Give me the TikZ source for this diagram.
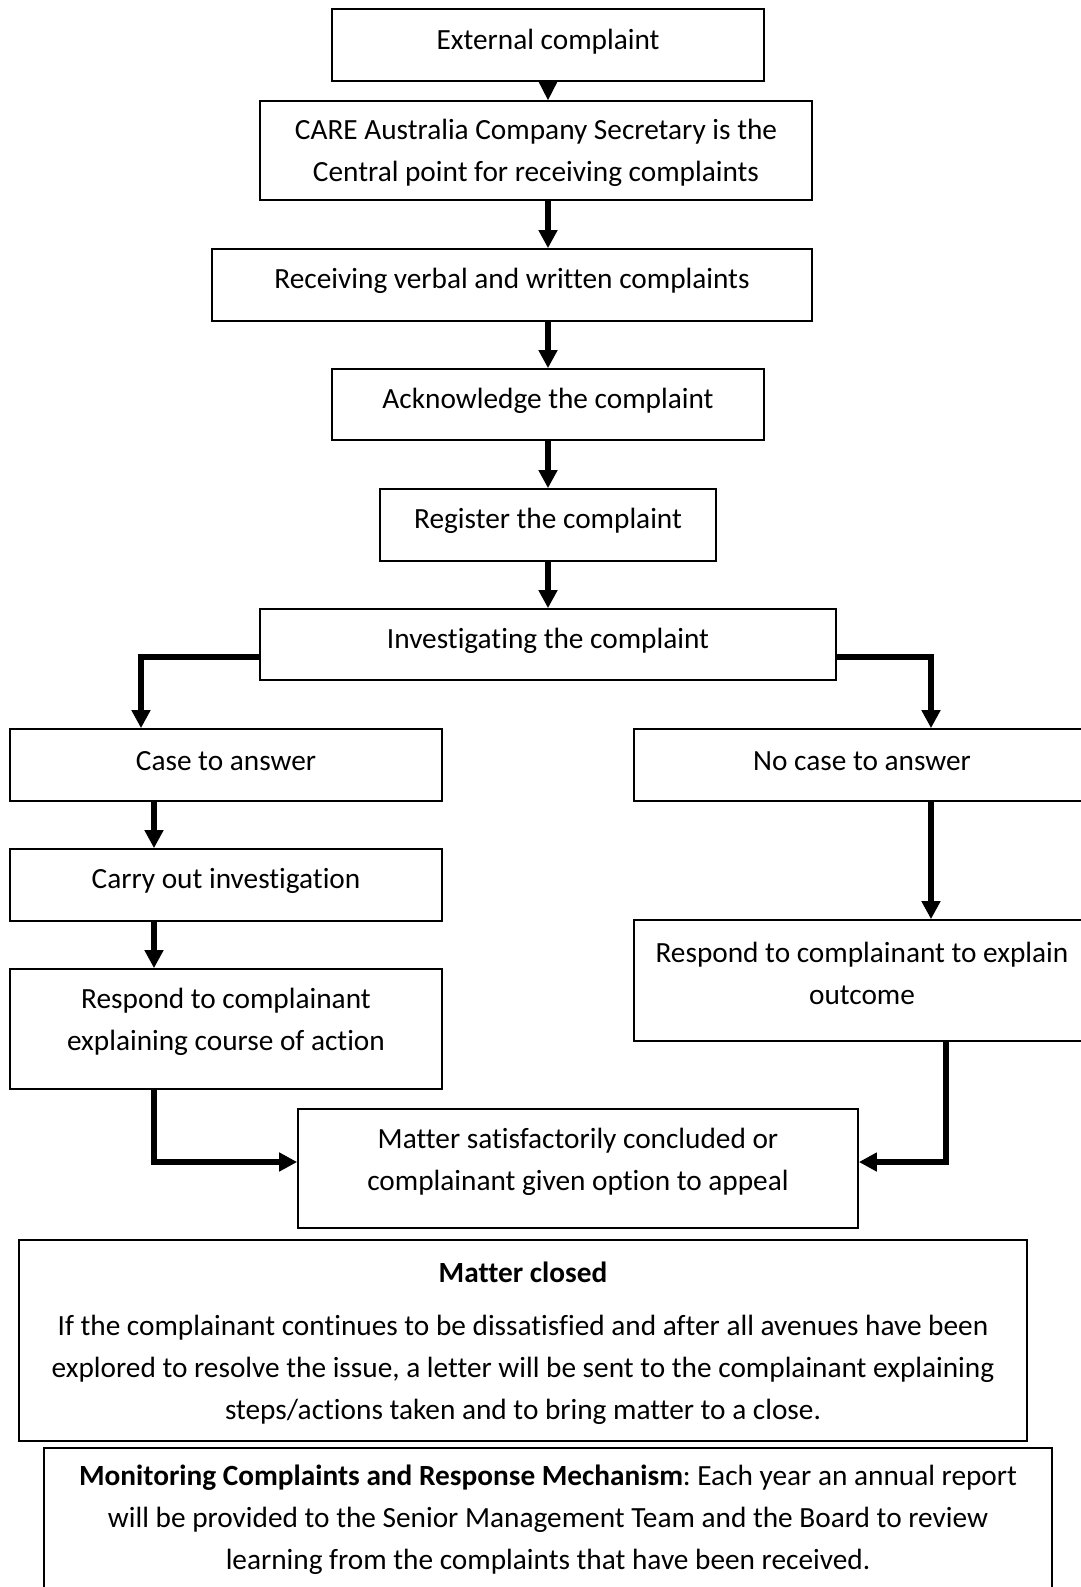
\documentclass[tikz,border=0pt]{standalone}
\usepackage{fontspec}
\setmainfont{Carlito}[RawFeature={-liga;-clig;-dlig;-calt}]
\usetikzlibrary{arrows.meta}
\frenchspacing

\tikzset{
  box/.style={draw=black, line width=1.7pt, rectangle, inner sep=0pt},
  txt/.style={inner sep=0pt, align=center, font=\fontsize{29.3}{42}\selectfont},
  arr/.style={line width=6pt, -{Triangle[width=18pt,length=18pt]}},
}

\begin{document}
\begin{tikzpicture}[x=1pt,y=-1pt]
\clip (0,0) rectangle (1081,1587);
\fill[white] (0,0) rectangle (1081,1587);
\coordinate (mid) at (548,0);
% main column
\node[box, minimum width=432, minimum height=72] (ext) at (548,45) {};
\node[txt] (ext-t) at (548,41.5) {External complaint};
\node[box, minimum width=552, minimum height=99] (care) at (536,150.5) {};
\node[txt] (care-t) at (536,153) {CARE Australia Company Secretary is the\\Central point for receiving complaints};
\node[box, minimum width=600, minimum height=72] (recv) at (512,285) {};
\node[txt] (recv-t) at (512,281) {Receiving verbal and written complaints};
\node[box, minimum width=432, minimum height=71] (ack) at (548,404.5) {};
\node[txt] (ack-t) at (548,401) {Acknowledge the complaint};
\node[box, minimum width=336, minimum height=72] (reg) at (548,525) {};
\node[txt] (reg-t) at (548,521) {Register the complaint};
\node[box, minimum width=576, minimum height=71] (inv) at (548,644.5) {};
\node[txt] (inv-t) at (548,641) {Investigating the complaint};
% left branch
\node[box, minimum width=432, minimum height=72] (case) at (226,765) {};
\node[txt] (case-t) at (226,761) {Case to answer};
\node[box, minimum width=432, minimum height=72] (carry) at (226,885) {};
\node[txt] (carry-t) at (226,881) {Carry out investigation};
\node[box, minimum width=432, minimum height=120] (respc) at (226,1029) {};
\node[txt] (respc-t) at (226,1022) {Respond to complainant\\explaining course of action};
% right branch
\node[box, minimum width=456, minimum height=72] (nocase) at (862,765) {};
\node[txt] (nocase-t) at (862,761) {No case to answer};
\node[box, minimum width=456, minimum height=121] (respo) at (862,980.5) {};
\node[txt] (respo-t) at (862,973.5) {Respond to complainant to explain\\outcome};
% end
\node[box, minimum width=560, minimum height=119] (matter) at (578,1168.5) {};
\node[txt] (matter-t) at (578,1162) {Matter satisfactorily concluded or\\complainant given option to appeal};
\node[box, minimum width=1008, minimum height=201] (closed) at (523,1340.5) {};
\node[txt] (closed-h) at (523,1272) {\bfseries Matter closed};
\node[txt] (closed-t) at (523,1370) {If the complainant continues to be dissatisfied and after all avenues have been\\explored to resolve the issue, a letter will be sent to the complainant explaining\\steps/actions taken and to bring matter to a close.};
\node[box, minimum width=1008, minimum height=152] (monit) at (548,1524) {};
\node[txt] (monit-t) at (548,1520) {\textbf{Monitoring Complaints and Response Mechanism}: Each year an annual report\\will be provided to the Senior Management Team and the Board to review\\learning from the complaints that have been received.};

% connectors
\draw[arr, line width=1.7pt] (mid |- ext.south) -- (mid |- care.north);
\draw[arr] (mid |- care.south) -- (mid |- recv.north);
\draw[arr] (mid |- recv.south) -- (mid |- ack.north);
\draw[arr] (mid |- ack.south) -- (mid |- reg.north);
\draw[arr] (mid |- reg.south) -- (mid |- inv.north);
\draw[arr] ([yshift=-12pt]inv.west) -| ([xshift=-85pt]case.north);
\draw[arr] ([yshift=-12pt]inv.east) -| ([xshift=69pt]nocase.north);
\draw[arr] ([xshift=-72pt]case.south) -- ([xshift=-72pt]carry.north);
\draw[arr] ([xshift=-72pt]carry.south) -- ([xshift=-72pt]respc.north);
\draw[arr] ([xshift=69pt]nocase.south) -- ([xshift=69pt]respo.north);
\draw[arr] ([xshift=-72pt]respc.south) |- ([yshift=6.5pt]matter.west);
\draw[arr] ([xshift=84pt]respo.south) |- ([yshift=6.5pt]matter.east);
\end{tikzpicture}
\end{document}
